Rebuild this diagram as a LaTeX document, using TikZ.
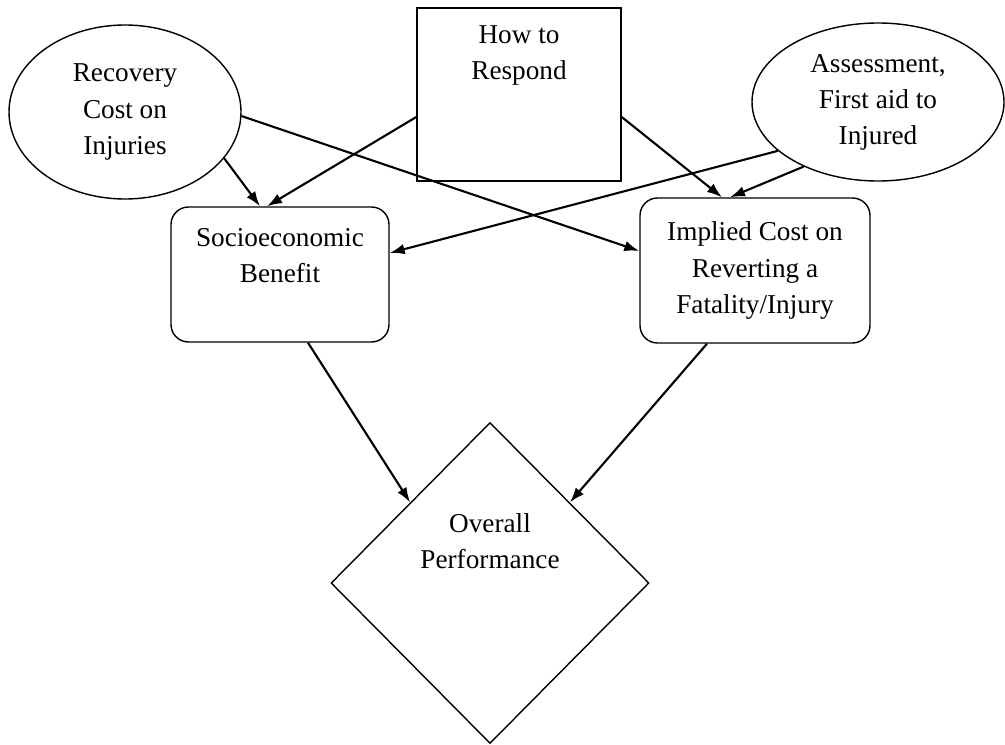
\documentclass[tikz,border=0pt]{standalone}
\usepackage{fontspec}
\setmainfont{Liberation Serif}
\usepackage{tikz}
\usetikzlibrary{positioning,shapes.geometric,arrows.meta}

\begin{document}
\begin{tikzpicture}[font=\fontsize{15.5}{20.5}\selectfont,
	shapebox/.style={draw,thick,align=center},
	roundbox/.style={shapebox,rectangle,rounded corners=0.35cm},
	link/.style={-{Latex[length=3mm,width=2.1mm]},line width=1.2pt}]
\useasboundingbox (0,0) rectangle (20.1,14.88);
% top row
\node[shapebox,ellipse,minimum width=4.64cm,minimum height=3.48cm] (recovery) at (2.5,12.64) {Recovery\\Cost on\\Injuries};
\node[shapebox,rectangle,minimum width=4.08cm,minimum height=3.46cm] (respond) at (10.38,12.99) {};
\node[align=center] (respondtext) at ([yshift=7.9mm]respond.center) {How to\\Respond}; % text at top of box
\node[shapebox,ellipse,minimum width=5.04cm,minimum height=3.16cm] (assessment) at (17.56,12.84) {Assessment,\\First aid to\\Injured};
% middle row
\node[roundbox,minimum width=4.36cm,minimum height=2.7cm] (benefit) at (5.6,9.39) {};
\node[align=center] (benefittext) at ([yshift=3.7mm]benefit.center) {Socioeconomic\\Benefit};
\node[roundbox,minimum width=4.6cm,minimum height=2.9cm] (impliedcost) at (15.1,9.47) {Implied Cost on\\Reverting a\\Fatality/Injury};
% bottom
\node[shapebox,diamond,minimum width=6.36cm,minimum height=6.42cm] (overall) at (9.8,3.22) {};
\node[align=center] (overalltext) at ([yshift=8.3mm]overall.center) {Overall\\Performance};
% arrows
\draw[link] (recovery.-25) -- ([xshift=-4mm]benefit.north);
\draw[link] ([yshift=-4.5mm]respond.west) -- ([xshift=-2.6mm]benefit.north);
\draw[link] (recovery.-2) -- ([yshift=3.9mm]impliedcost.west);
\draw[link] ([yshift=-4.5mm]respond.east) -- ([xshift=-6.6mm]impliedcost.north);
\draw[link] (assessment.206) -- ([yshift=4.3mm]benefit.east);
\draw[link] (assessment.221) -- ([xshift=-5mm]impliedcost.north);
\draw[link] ([xshift=5.6mm]benefit.south) -- (overall.north west);
\draw[link] ([xshift=-9.6mm]impliedcost.south) -- (overall.north east);
\end{tikzpicture}
\end{document}
